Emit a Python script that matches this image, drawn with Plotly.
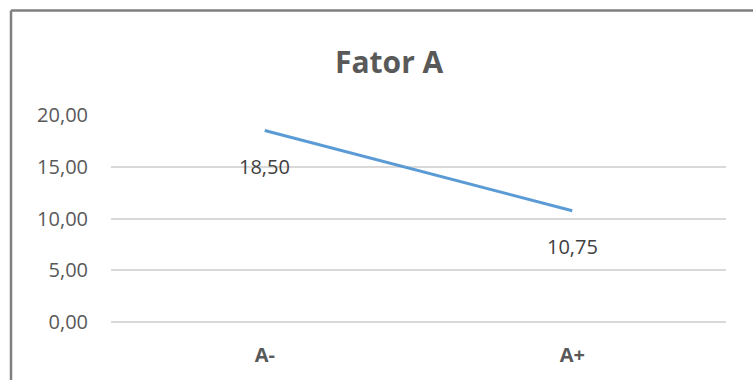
import plotly.graph_objects as go

# Chart data
categories = ["A-", "A+"]
values = [18.50, 10.75]
y_ticks = [0, 5, 10, 15, 20]
title_text = "Fator A"

W, H = 753, 380
ML, MR, MT, MB = 111, 27, 115, 55
PW, PH = W - ML - MR, H - MT - MB

TEXT = "#595959"
FONT = "Open Sans"


def px_to_paper_x(px):
    return (px - ML) / PW


def px_to_paper_y(py):
    return (H - MB - py) / PH


def fmt(v):
    return f"{v:.2f}".replace(".", ",")


fig = go.Figure()
fig.add_trace(go.Scatter(
    x=categories, y=values, mode="lines",
    line=dict(color="#5B9BD5", width=3),
    hoverinfo="skip", showlegend=False,
))

# value labels under each point
for c, v in zip(categories, values):
    fig.add_annotation(
        x=c, y=v, text=fmt(v), showarrow=False, yshift=-36,
        font=dict(family=FONT, size=20, color="#404040"),
    )

# title
fig.add_annotation(
    x=px_to_paper_x(389), y=px_to_paper_y(61), xref="paper", yref="paper",
    text=f"<b>{title_text}</b>", showarrow=False,
    font=dict(family=FONT, size=30, color=TEXT),
    xanchor="center", yanchor="middle",
)

# chart frame (left and top edges)
border = dict(color="#7F7F7F", width=2.5)
fig.add_shape(type="line", xref="paper", yref="paper",
              x0=px_to_paper_x(11), x1=px_to_paper_x(11),
              y0=px_to_paper_y(9), y1=px_to_paper_y(H + 5), line=border)
fig.add_shape(type="line", xref="paper", yref="paper",
              x0=px_to_paper_x(11), x1=px_to_paper_x(W + 5),
              y0=px_to_paper_y(9), y1=px_to_paper_y(9), line=border)

fig.update_layout(
    width=W, height=H,
    margin=dict(l=ML, r=MR, t=MT, b=MB, pad=0),
    paper_bgcolor="white", plot_bgcolor="white",
    separators=",.",
    font=dict(family=FONT, color=TEXT),
    xaxis=dict(
        type="category", range=[-0.5, 1.5],
        showgrid=False, showline=False, zeroline=False,
        ticks="", ticklabelstandoff=19,
        tickfont=dict(family=FONT, size=20, color=TEXT, weight="bold"),
        fixedrange=True,
    ),
    yaxis=dict(
        range=[0, 20], tickvals=y_ticks, tickformat=".2f",
        showgrid=True, gridcolor="#D9D9D9", gridwidth=1.5,
        zeroline=True, zerolinecolor="#D9D9D9", zerolinewidth=1.5,
        showline=False, ticks="", ticklabelstandoff=22,
        tickfont=dict(family=FONT, size=20, color=TEXT),
        fixedrange=True,
    ),
)

fig.write_html("out.html", config={"displayModeBar": False})
